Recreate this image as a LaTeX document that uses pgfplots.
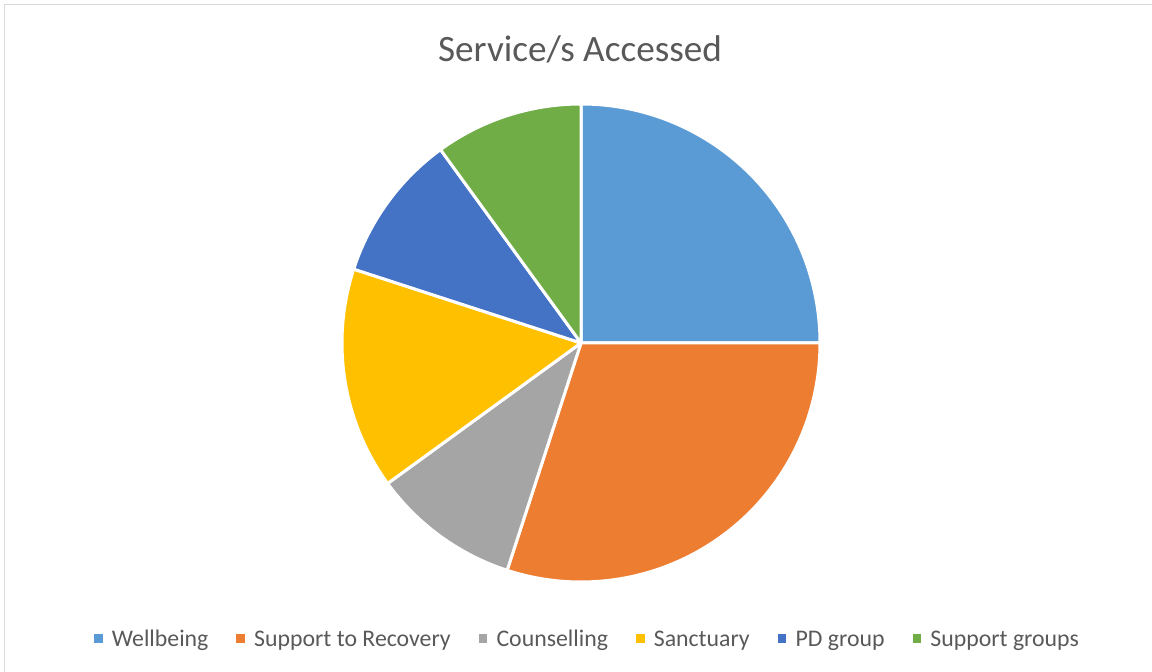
\documentclass[border=0pt]{standalone}
\usepackage{pgfplots}
\pgfplotsset{compat=1.18}
\usepackage{pgfplotstable}
\usepackage{fontspec}
\setmainfont{Carlito}
\definecolor{wb}{HTML}{5B9BD5}
\definecolor{str}{HTML}{ED7D31}
\definecolor{co}{HTML}{A5A5A5}
\definecolor{sa}{HTML}{FFC000}
\definecolor{pd}{HTML}{4472C4}
\definecolor{sg}{HTML}{70AD47}
\definecolor{txt}{HTML}{595959}
\definecolor{framec}{HTML}{D9D9D9}

% share of each service (percent); start = cumulative share before the slice
\pgfplotstableread[col sep=comma]{
name,value,start,color
Wellbeing,25,0,wb
Support to Recovery,30,25,str
Counselling,10,55,co
Sanctuary,15,65,sa
PD group,10,80,pd
Support groups,10,90,sg
}\piedata

\begin{document}
\begin{tikzpicture}
\useasboundingbox (0,0) rectangle (576bp,336bp);
\begin{axis}[
  scale only axis, width=576bp, height=336bp,
  xmin=0, xmax=1152, ymin=0, ymax=672,
  hide axis, clip=false,
  legend columns=6,
  legend image code/.code={\fill[#1, draw=none] (0bp,1.8bp) rectangle (4.3bp,6.1bp);},
  legend style={
    draw=none, fill=none,
    at={(0.5091,0.0484)}, anchor=center,
    font=\fontsize{11.9bp}{14bp}\selectfont, text=txt,
    nodes={inner sep=0pt},
    cells={anchor=base west},
    /tikz/every odd column/.append style={column sep=4.6bp},
    /tikz/every even column/.append style={column sep=14bp},
  },
]
\draw[framec, line width=0.75bp] (axis cs:4.5,0) -- (axis cs:4.5,667.5) -- (axis cs:1152,667.5);

\pgfplotsinvokeforeach{0,...,5}{
  \pgfplotstablegetelem{#1}{value}\of\piedata \let\pv\pgfplotsretval
  \pgfplotstablegetelem{#1}{start}\of\piedata \let\ps\pgfplotsretval
  \pgfplotstablegetelem{#1}{color}\of\piedata \let\pc\pgfplotsretval
  \pgfmathsetmacro\pa{90-3.6*\ps}
  \pgfmathsetmacro\pb{90-3.6*(\ps+\pv)}
  \edef\temp{\noexpand\filldraw[fill=\pc, draw=white, line width=1.5bp, line join=round]
    (axis cs:581,329) -- ++(\pa:119.5bp) arc[start angle=\pa, end angle=\pb, radius=119.5bp] -- cycle;}
  \temp
}

\node[text=txt, font=\fontsize{18.6bp}{22bp}\selectfont, anchor=base] at (axis cs:580,610) {Service/s Accessed};

\addlegendimage{fill=wb}\addlegendentry{Wellbeing}
\addlegendimage{fill=str}\addlegendentry{Support to Recovery}
\addlegendimage{fill=co}\addlegendentry{Counselling}
\addlegendimage{fill=sa}\addlegendentry{Sanctuary}
\addlegendimage{fill=pd}\addlegendentry{PD group}
\addlegendimage{fill=sg}\addlegendentry{Support groups}
\end{axis}
\end{tikzpicture}
\end{document}
